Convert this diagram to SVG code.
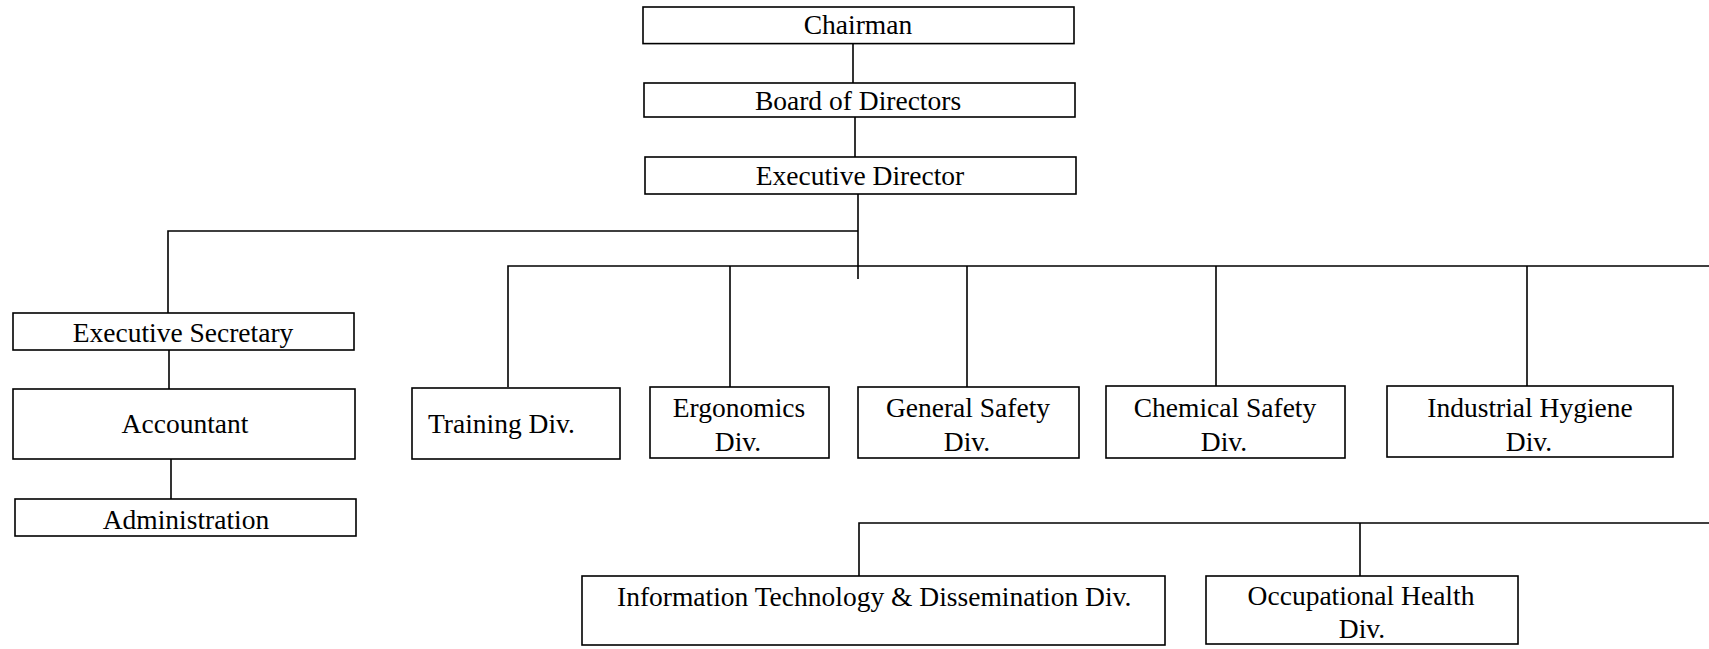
<svg xmlns="http://www.w3.org/2000/svg" width="1709" height="649" viewBox="0 0 1709 649">
<style>
.box{fill:#fff;stroke:#000;stroke-width:1.6}
.c{fill:none;stroke:#000;stroke-width:1.6}
text{font-family:"Liberation Serif","Times New Roman",serif;font-size:27.5px;fill:#000;text-anchor:middle}
</style>
<rect width="1709" height="649" fill="#fff"/>
<g id="connectors">
<path class="c" d="M853 43.6V83"/>
<path class="c" d="M855 117V157"/>
<path class="c" d="M858 194V279"/>
<path class="c" d="M858 231H168V313"/>
<path class="c" d="M508 387V266H1709"/>
<path class="c" d="M730 266V387"/>
<path class="c" d="M967 266V387"/>
<path class="c" d="M1216 266V386"/>
<path class="c" d="M1527 266V386"/>
<path class="c" d="M169 350V389"/>
<path class="c" d="M171 459V499"/>
<path class="c" d="M859 576V523H1709"/>
<path class="c" d="M1360 523V576"/>
</g>
<g id="chairman"><rect class="box" x="643" y="7" width="431" height="36.6"/><text x="858" y="34">Chairman</text></g>
<g id="board"><rect class="box" x="644" y="83" width="431" height="34"/><text x="858" y="110">Board of Directors</text></g>
<g id="exec-director"><rect class="box" x="645" y="157" width="431" height="37"/><text x="860" y="185">Executive Director</text></g>
<g id="exec-secretary"><rect class="box" x="13" y="313" width="341" height="37"/><text x="183" y="342">Executive Secretary</text></g>
<g id="accountant"><rect class="box" x="13" y="389" width="342" height="70"/><text x="185" y="433">Accountant</text></g>
<g id="administration"><rect class="box" x="15" y="499" width="341" height="37"/><text x="186" y="529">Administration</text></g>
<g id="training"><rect class="box" x="412" y="388" width="208" height="71"/><text x="428" y="433" style="text-anchor:start">Training Div.</text></g>
<g id="ergonomics"><rect class="box" x="650" y="387" width="179" height="71"/><text x="739" y="417">Ergonomics</text><text x="738" y="451">Div.</text></g>
<g id="general-safety"><rect class="box" x="858" y="387" width="221" height="71"/><text x="968" y="417">General Safety</text><text x="967" y="451">Div.</text></g>
<g id="chemical-safety"><rect class="box" x="1106" y="386" width="239" height="72"/><text x="1225" y="417">Chemical Safety</text><text x="1224" y="451">Div.</text></g>
<g id="industrial-hygiene"><rect class="box" x="1387" y="386" width="286" height="71"/><text x="1530" y="417">Industrial Hygiene</text><text x="1529" y="451">Div.</text></g>
<g id="it-dissemination"><rect class="box" x="582" y="576" width="583" height="69"/><text x="617" y="606" style="text-anchor:start">Information Technology &amp; Dissemination Div.</text></g>
<g id="occupational-health"><rect class="box" x="1206" y="576" width="312" height="68"/><text x="1361" y="605">Occupational Health</text><text x="1362" y="638">Div.</text></g>
</svg>
